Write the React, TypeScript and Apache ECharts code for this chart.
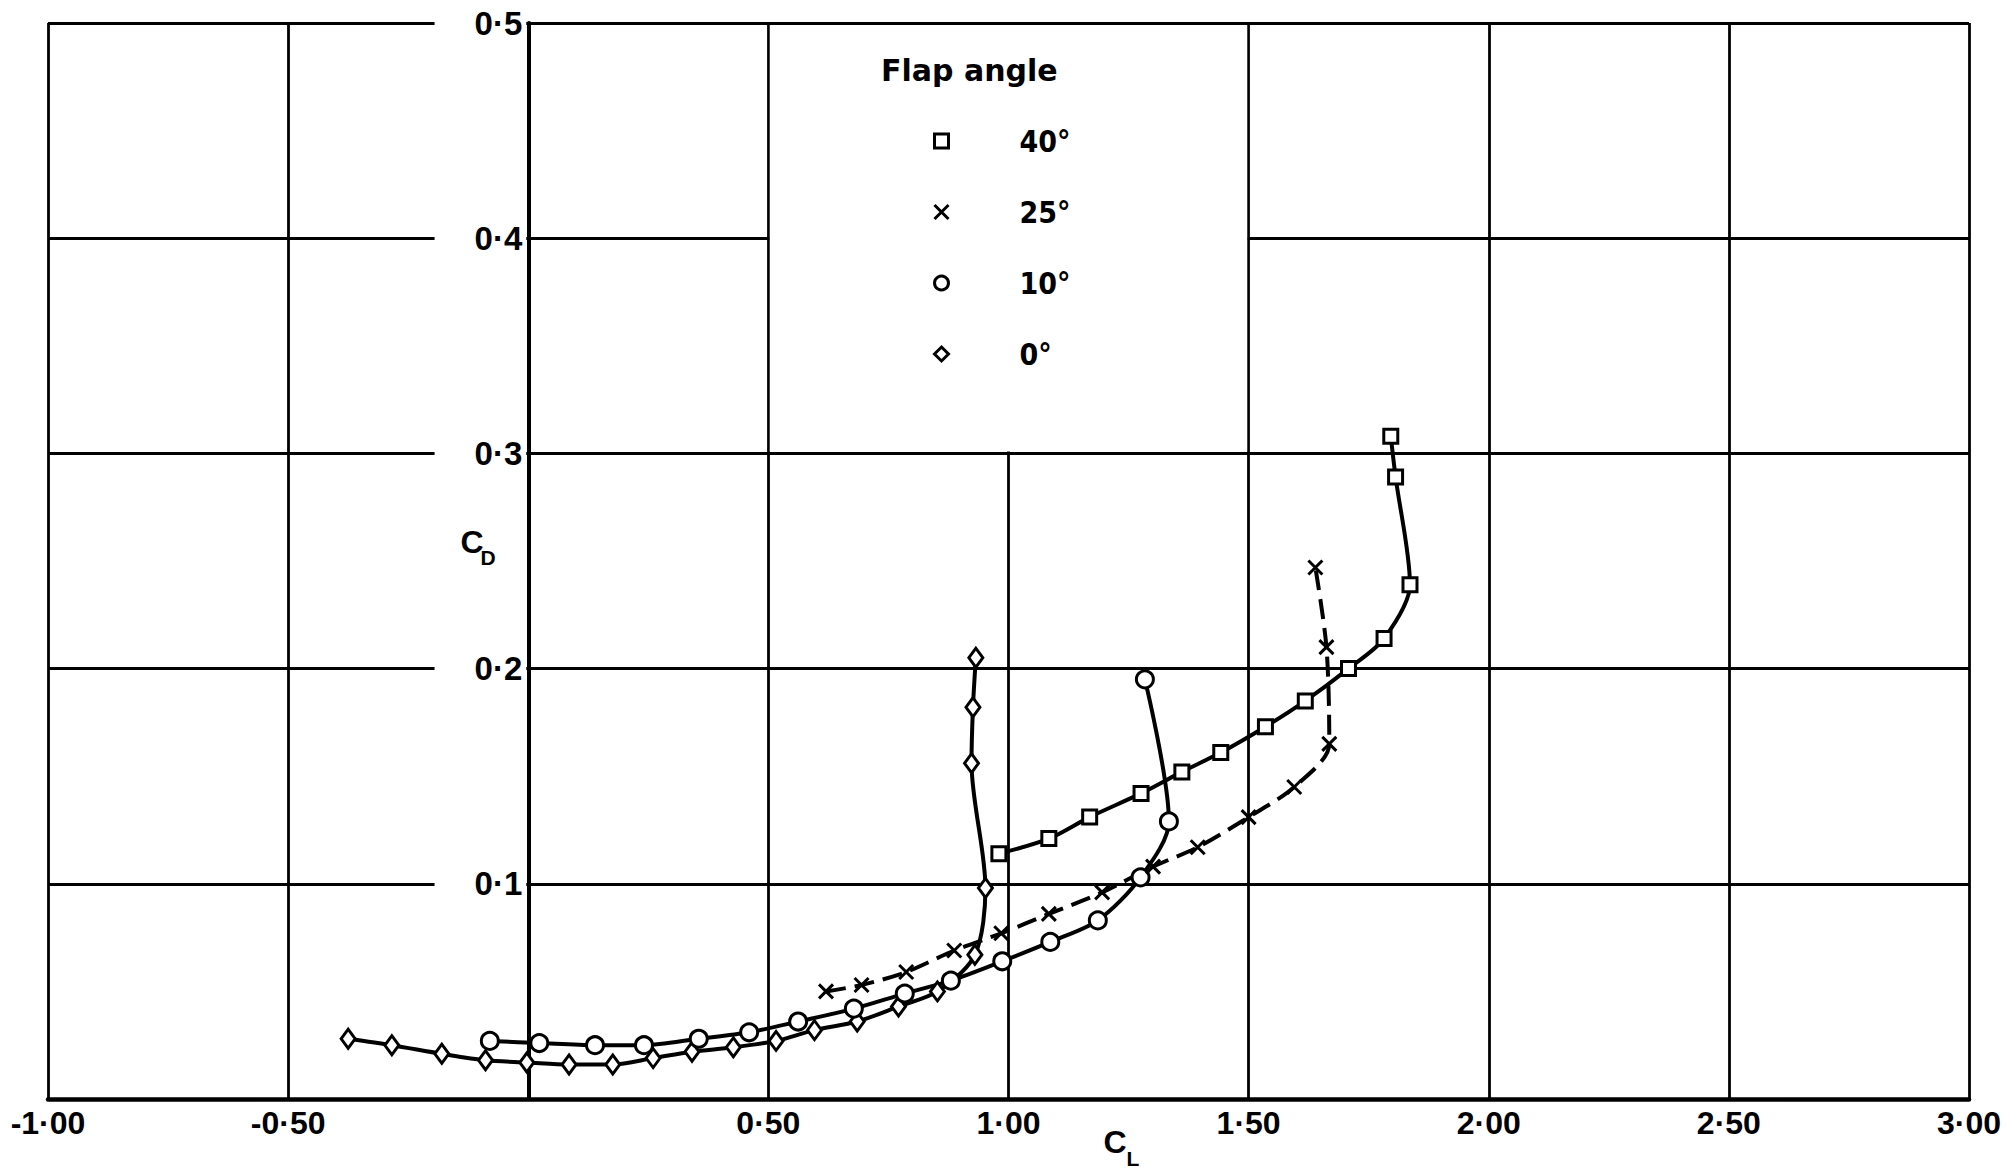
import React, { useEffect, useRef } from "react";
import * as echarts from "echarts";

// ---- Data (C_L, C_D) ----
const flap40: [number, number][] = [
  [0.980, 0.114], [1.084, 0.121], [1.169, 0.131], [1.276, 0.142], [1.361, 0.152],
  [1.442, 0.161], [1.535, 0.173], [1.618, 0.185], [1.708, 0.200], [1.782, 0.214],
  [1.836, 0.239], [1.806, 0.289], [1.796, 0.308],
];
const flap25: [number, number][] = [
  [0.620, 0.050], [0.694, 0.053], [0.787, 0.059], [0.887, 0.069], [0.985, 0.077],
  [1.084, 0.086], [1.195, 0.096], [1.301, 0.108], [1.394, 0.117], [1.500, 0.131],
  [1.595, 0.145], [1.668, 0.165], [1.662, 0.210], [1.639, 0.247],
];
const flap10: [number, number][] = [
  [-0.080, 0.027], [0.023, 0.026], [0.139, 0.025], [0.241, 0.025], [0.355, 0.028],
  [0.460, 0.031], [0.562, 0.036], [0.678, 0.042], [0.784, 0.049], [0.880, 0.055],
  [0.987, 0.064], [1.087, 0.073], [1.186, 0.083], [1.275, 0.103], [1.334, 0.129],
  [1.284, 0.195],
];
const flap0: [number, number][] = [
  [-0.375, 0.028], [-0.284, 0.025], [-0.180, 0.021], [-0.089, 0.018], [-0.003, 0.017],
  [0.085, 0.016], [0.176, 0.016], [0.260, 0.019], [0.341, 0.022], [0.427, 0.024],
  [0.516, 0.027], [0.596, 0.032], [0.685, 0.036], [0.771, 0.043], [0.852, 0.050],
  [0.930, 0.067], [0.952, 0.098], [0.923, 0.156], [0.926, 0.182], [0.932, 0.205],
];

const seriesNames = ["40°", "25°", "10°", "0°"];
const legendTitle = "Flap angle";
const xAxisName = ["C", "L"];
const yAxisName = ["C", "D"];

const X_MIN = -1, X_MAX = 3, X_STEP = 0.5;
const Y_MIN = 0, Y_MAX = 0.5, Y_STEP = 0.1;

const W = 2007, H = 1169;
const GRID_LEFT = 48, GRID_RIGHT = 38, GRID_TOP = 23, GRID_BOTTOM = 70;

const CROSS = "path://M0,0L10,10M10,0L0,10";
const LAB = "'Liberation Sans', Arial, sans-serif";
const COND = "'DejaVu Sans Condensed', 'DejaVu Sans', sans-serif";
const WIDE = "'DejaVu Sans', sans-serif";

const fmt = (v: number, d: number) =>
  Math.abs(v) < 1e-9 ? "" : v.toFixed(d).replace(".", "·");

export default function App() {
  const ref = useRef<HTMLDivElement>(null);
  useEffect(() => {
    document.body.style.margin = "0";
    if (!ref.current) return;
    const chart = echarts.init(ref.current, undefined, { renderer: "svg" });

    const markerStyle = { color: "#fff", borderColor: "#000", borderWidth: 3 };
    const lineBase = { color: "#000", width: 4 };

    // y axis sits at C_L = 0 inside the grid
    const plotW = W - GRID_LEFT - GRID_RIGHT;
    const zeroOffset = ((0 - X_MIN) / (X_MAX - X_MIN)) * plotW;

    const option: any = {
      animation: false,
      backgroundColor: "#fff",
      grid: {
        left: GRID_LEFT,
        right: GRID_RIGHT,
        top: GRID_TOP,
        bottom: GRID_BOTTOM,
        containLabel: false,
        outerBoundsMode: "none",
      },
      title: {
        text: legendTitle,
        left: 876,
        top: 50,
        textStyle: { fontFamily: WIDE, fontWeight: "bold", fontSize: 30, color: "#000" },
      },
      legend: {
        orient: "vertical",
        left: 928,
        top: 121,
        itemWidth: 14,
        itemHeight: 14,
        itemGap: 41,
        selectedMode: false,
        data: [
          { name: seriesNames[0], icon: "rect" },
          { name: seriesNames[1], icon: CROSS },
          { name: seriesNames[2], icon: "circle" },
          { name: seriesNames[3], icon: "diamond" },
        ],
        itemStyle: { color: "#fff", borderColor: "#000", borderWidth: 3 },
        textStyle: {
          fontFamily: COND,
          fontWeight: "bold",
          fontSize: 30,
          color: "#000",
          padding: [0, 0, 0, 66],
        },
      },
      xAxis: {
        type: "value",
        min: X_MIN,
        max: X_MAX,
        interval: X_STEP,
        axisLine: { show: true, onZero: true, lineStyle: { color: "#000", width: 4.5 } },
        axisTick: { show: false },
        splitLine: { show: true, lineStyle: { color: "#000", width: 2.8 } },
        axisLabel: {
          formatter: (v: number) => fmt(v, 2),
          fontFamily: LAB,
          fontWeight: "bold",
          fontSize: 32,
          color: "#000",
          margin: 8,
        },
      },
      yAxis: {
        type: "value",
        position: "left",
        offset: -zeroOffset,
        min: Y_MIN,
        max: Y_MAX,
        interval: Y_STEP,
        axisLine: { show: true, onZero: false, lineStyle: { color: "#000", width: 4 } },
        axisTick: { show: false },
        splitLine: { show: true, lineStyle: { color: "#000", width: 2.8 } },
        axisLabel: {
          showMinLabel: false,
          formatter: (v: number) => fmt(v, 1),
          fontFamily: LAB,
          fontWeight: "bold",
          fontSize: 33,
          color: "#000",
          margin: 2,
          backgroundColor: "#fff",
          padding: [3, 4, 3, 40],
        },
      },
      graphic: [
        { type: "text", x: 472, y: 542, style: { text: yAxisName[0], fontFamily: LAB, fontWeight: "bold", fontSize: 32, fill: "#000", align: "center", verticalAlign: "middle" }, z: 10 },
        { type: "text", x: 488, y: 557, style: { text: yAxisName[1], fontFamily: LAB, fontWeight: "bold", fontSize: 21, fill: "#000", align: "center", verticalAlign: "middle" }, z: 10 },
        { type: "text", x: 1115, y: 1142, style: { text: xAxisName[0], fontFamily: LAB, fontWeight: "bold", fontSize: 32, fill: "#000", align: "center", verticalAlign: "middle" }, z: 10 },
        { type: "text", x: 1133, y: 1158, style: { text: xAxisName[1], fontFamily: LAB, fontWeight: "bold", fontSize: 21, fill: "#000", align: "center", verticalAlign: "middle" }, z: 10 },
      ],
      series: [
        {
          name: "legendBox",
          type: "scatter",
          data: [],
          silent: true,
          markArea: {
            silent: true,
            itemStyle: { color: "#fff", opacity: 1, borderWidth: 0 },
            data: [[{ coord: [0.5 + 0.003, 0.3 + 0.0009] }, { coord: [1.5 - 0.003, 0.5 - 0.0009] }]],
          },
          z: 1,
        },
        {
          name: seriesNames[3],
          type: "line",
          data: flap0,
          symbol: "diamond",
          symbolSize: [14, 19],
          smooth: 0.3,
          lineStyle: { ...lineBase },
          itemStyle: markerStyle,
        },
        {
          name: seriesNames[2],
          type: "line",
          data: flap10,
          symbol: "circle",
          symbolSize: 17,
          smooth: 0.3,
          lineStyle: { ...lineBase },
          itemStyle: markerStyle,
        },
        {
          name: seriesNames[1],
          type: "line",
          data: flap25,
          symbol: CROSS,
          symbolSize: 14,
          smooth: 0.3,
          lineStyle: { ...lineBase, type: [20, 9] },
          itemStyle: markerStyle,
        },
        {
          name: seriesNames[0],
          type: "line",
          data: flap40,
          symbol: "rect",
          symbolSize: 14,
          smooth: 0.3,
          lineStyle: { ...lineBase },
          itemStyle: markerStyle,
        },
      ],
    };
    chart.setOption(option);
    return () => chart.dispose();
  }, []);
  return <div ref={ref} style={{ width: W, height: H }} />;
}
